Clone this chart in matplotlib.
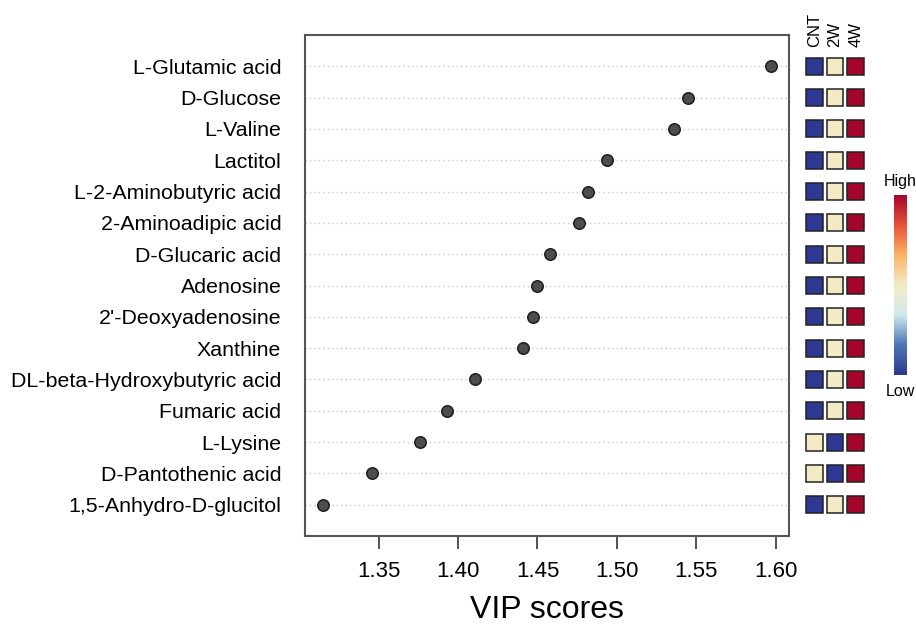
import numpy as np
import matplotlib
matplotlib.use("Agg")
import matplotlib.pyplot as plt
import matplotlib.patches as mpatches
from matplotlib.colors import LinearSegmentedColormap

plt.rcParams["font.family"] = ["Liberation Sans", "DejaVu Sans"]

# ── Data (top of chart first) ────────────────────────────────────────────────
METABOLITES = [
    "L-Glutamic acid",
    "D-Glucose",
    "L-Valine",
    "Lactitol",
    "L-2-Aminobutyric acid",
    "2-Aminoadipic acid",
    "D-Glucaric acid",
    "Adenosine",
    "2'-Deoxyadenosine",
    "Xanthine",
    "DL-beta-Hydroxybutyric acid",
    "Fumaric acid",
    "L-Lysine",
    "D-Pantothenic acid",
    "1,5-Anhydro-D-glucitol",
]

VIP = [1.597, 1.545, 1.536, 1.494, 1.482, 1.476, 1.458, 1.450,
       1.447, 1.441, 1.411, 1.393, 1.376, 1.346, 1.315]

GROUPS = ["CNT", "2W", "4W"]

# relative level per group: 0 = low, 0.5 = middle, 1 = high
LEVELS = np.array([
    [0, 0.5, 1],
    [0, 0.5, 1],
    [0, 0.5, 1],
    [0, 0.5, 1],
    [0, 0.5, 1],
    [0, 0.5, 1],
    [0, 0.5, 1],
    [0, 0.5, 1],
    [0, 0.5, 1],
    [0, 0.5, 1],
    [0, 0.5, 1],
    [0, 0.5, 1],
    [0.5, 0, 1],
    [0.5, 0, 1],
    [0, 0.5, 1],
])

# ── Colours ──────────────────────────────────────────────────────────────────
CMAP = LinearSegmentedColormap.from_list(
    "vip", ["#2e3892", "#4a78b5", "#cfe9ef", "#f3ecc6", "#fbb368", "#e8513a", "#a6052a"])
FRAME = "#555555"

n = len(METABOLITES)
ypos = np.arange(n, 0, -1)

fig = plt.figure(figsize=(9.16, 6.25), dpi=100)
fig.patch.set_facecolor("white")

# ── Main dot plot ────────────────────────────────────────────────────────────
ax = fig.add_axes([305 / 916, 1 - 536 / 625, 484 / 916, 501 / 625])
for y in ypos:
    ax.axhline(y, color="#c8c8c8", linestyle=(0, (1.0, 2.2)), linewidth=1.0, zorder=1)
ax.scatter(VIP, ypos, s=68, color="#4d4d4d", edgecolor="#1e1e1e", linewidth=1.1, zorder=3)

span = max(VIP) - min(VIP)
ax.set_xlim(min(VIP) - 0.04 * span, max(VIP) + 0.04 * span)
ax.set_ylim(0, n + 1)
ax.set_yticks(ypos)
ax.set_yticklabels(METABOLITES, fontsize=15.4)
ax.set_xticks([1.35, 1.40, 1.45, 1.50, 1.55, 1.60])
ax.set_xticklabels(["1.35", "1.40", "1.45", "1.50", "1.55", "1.60"], fontsize=16)
ax.tick_params(axis="y", length=0, pad=17)
ax.tick_params(axis="x", length=9, width=1.2, color="#333333", pad=9)
ax.set_xlabel("VIP scores", fontsize=23, labelpad=9)
for sp in ax.spines.values():
    sp.set_color(FRAME)
    sp.set_linewidth(1.5)

# ── Group heat squares ───────────────────────────────────────────────────────
hx = fig.add_axes([804 / 916, 1 - 536 / 625, 62 / 916, 501 / 625], sharey=ax)
hx.set_xlim(0, len(GROUPS))
hx.axis("off")
w, h = 0.82, 0.54
for r, y in enumerate(ypos):
    for c in range(len(GROUPS)):
        hx.add_patch(mpatches.Rectangle(
            (c + 0.5 - w / 2, y - h / 2), w, h,
            facecolor=CMAP(LEVELS[r, c]), edgecolor="#222222", linewidth=1.1))
for c, g in enumerate(GROUPS):
    hx.text(c + 0.5, n + 0.62, g, rotation=90, ha="center", va="bottom",
            fontsize=12, clip_on=False)

# ── Colour bar ───────────────────────────────────────────────────────────────
cx = fig.add_axes([894 / 916, 1 - 375 / 625, 13 / 916, 180 / 625])
grad = np.linspace(0, 1, 256).reshape(-1, 1)
cx.imshow(grad, cmap=CMAP, aspect="auto", origin="lower")
cx.axis("off")
fig.text(900 / 916, 1 - 181 / 625, "High", ha="center", va="center", fontsize=11.5)
fig.text(900 / 916, 1 - 391 / 625, "Low", ha="center", va="center", fontsize=11.5)

fig.savefig("out.png", dpi=100, facecolor="white")
plt.close(fig)
